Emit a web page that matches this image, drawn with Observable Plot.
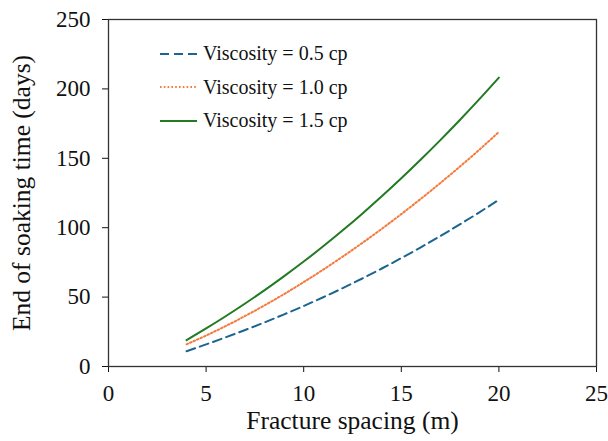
<!DOCTYPE html>
<html>
<head>
<meta charset="utf-8">
<script src="https://cdn.jsdelivr.net/npm/d3@7"></script>
<script src="https://cdn.jsdelivr.net/npm/@observablehq/plot@0.6"></script>
<style>
  html, body { margin: 0; padding: 0; background: #fff; }
  #wrap { position: relative; width: 608px; height: 441px; font-family: "Liberation Serif", "Times New Roman", serif; }
  #legend { position: absolute; left: 159px; top: 37px; font-size: 20px; color: #111; }
  .row { display: flex; align-items: center; height: 33.5px; }
  .row svg { margin-right: 5px; }
</style>
</head>
<body>
<div id="wrap"><div id="legend"></div></div>
<script>
const spacing = [4, 5, 6, 7, 8, 9, 10, 11, 12, 13, 14, 15, 16, 17, 18, 19, 20];
const visc05 = [11, 15.9, 21.0, 26.3, 31.8, 37.6, 43.6, 49.9, 56.5, 63.4, 70.6, 78.1, 85.9, 94.0, 102.4, 111.1, 120.1];
const visc10 = [16, 22.3, 29.1, 36.4, 44.1, 52.2, 60.8, 69.8, 79.2, 89.0, 99.2, 109.8, 120.8, 132.2, 144.0, 156.2, 169.0];
const visc15 = [19, 27.4, 36.2, 45.4, 55.0, 65.1, 75.6, 86.6, 98.1, 110.1, 122.6, 135.6, 149.1, 163.1, 177.6, 192.6, 208.1];
const seriesNames = ["Viscosity = 0.5 cp", "Viscosity = 1.0 cp", "Viscosity = 1.5 cp"];
const xTicks = [0, 5, 10, 15, 20, 25];
const yTicks = [0, 50, 100, 150, 200, 250];

const colors = ["#1c6591", "#f47a3d", "#227a22"];
const dashes = ["9,5", "1.6,2.2", null];

const seriesVals = [visc05, visc10, visc15];
const data = [];
seriesVals.forEach((vals, i) => vals.forEach((v, j) => data.push({series: seriesNames[i], x: spacing[j], y: v})));

const marks = seriesNames.map((name, i) => Plot.line(data.filter(d => d.series === name), {
  x: "x", y: "y", stroke: colors[i], strokeWidth: 2, strokeDasharray: dashes[i] ?? undefined, curve: "monotone-x"
}));

const chart = Plot.plot({
  width: 608,
  height: 441,
  marginLeft: 108,
  marginTop: 19,
  marginRight: 12,
  marginBottom: 75,
  style: { fontFamily: '"Liberation Serif", "Times New Roman", serif', fontSize: "23px", color: "#111", background: "#fff" },
  x: { domain: [0, 25], ticks: xTicks, tickSize: 6, tickPadding: 12, label: "Fracture spacing (m)", labelAnchor: "center", labelArrow: "none", labelOffset: 62 },
  y: { domain: [0, 250], ticks: yTicks, tickSize: 6, tickPadding: 12, label: "End of soaking time (days)", labelAnchor: "center", labelArrow: "none", labelOffset: 97 },
  marks: [
    Plot.frame({ stroke: "#333", strokeWidth: 1.3 }),
    ...marks
  ]
});
chart.querySelectorAll('[aria-label="x-axis label"] text, [aria-label="y-axis label"] text').forEach(t => t.style.fontSize = "25.5px");
document.getElementById("wrap").prepend(chart);

const legend = document.getElementById("legend");
seriesNames.forEach((name, i) => {
  const row = document.createElement("div");
  row.className = "row";
  row.innerHTML = `<svg width="39" height="6"><line x1="1" y1="3" x2="38" y2="3" stroke="${colors[i]}" stroke-width="2" ${dashes[i] ? `stroke-dasharray="${dashes[i]}"` : ""}/></svg><span>${name}</span>`;
  legend.appendChild(row);
});
</script>
</body>
</html>
